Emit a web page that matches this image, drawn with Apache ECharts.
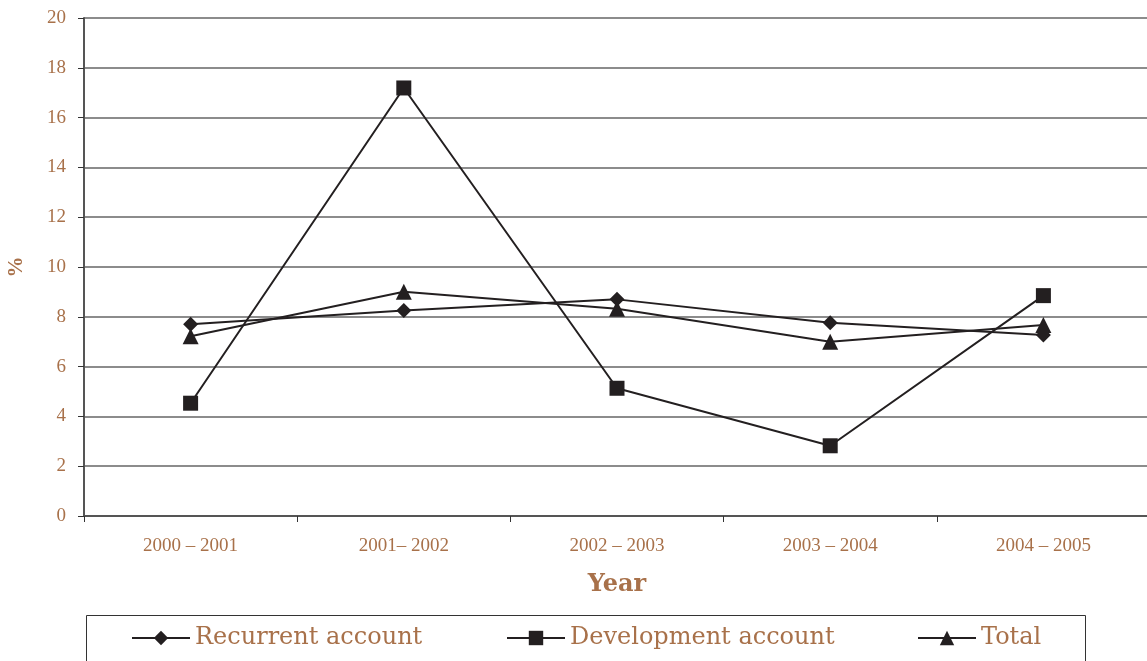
<!DOCTYPE html>
<html>
<head>
<meta charset="utf-8">
<script src="https://cdn.jsdelivr.net/npm/echarts@6/dist/echarts.min.js"></script>
<style>
  html, body { margin: 0; padding: 0; background: #fff; }
  #chart { width: 1147px; height: 661px; }
</style>
</head>
<body>
<div id="chart"></div>
<script>
// Annual growth rates (%) by financial year
const years = ['2000 – 2001', '2001– 2002', '2002 – 2003', '2003 – 2004', '2004 – 2005'];
const recurrent = [7.70, 8.25, 8.70, 7.76, 7.27];
const development = [4.53, 17.19, 5.13, 2.82, 8.85];
const total = [7.22, 9.01, 8.32, 7.00, 7.67];
const yTicks = [0, 2, 4, 6, 8, 10, 12, 14, 16, 18, 20];

const ink = '#231f20';
const brown = '#a8714a';
const serif = '"Liberation Serif", "DejaVu Serif", serif';
const wideSerif = '"DejaVu Serif", "Liberation Serif", serif';

const chart = echarts.init(document.getElementById('chart'), null, { renderer: 'canvas' });

function lineSeries(name, data, symbol, size) {
  return {
    name: name,
    type: 'line',
    data: data,
    symbol: symbol,
    symbolSize: size,
    showAllSymbol: true,
    lineStyle: { color: ink, width: 2 },
    itemStyle: { color: ink },
    emphasis: { disabled: true },
    animation: false
  };
}

function legendAt(name, left) {
  return {
    data: [name],
    left: left,
    top: 626,
    padding: 0,
    itemWidth: 58,
    itemHeight: 18,
    itemGap: 0,
    textStyle: { color: brown, fontFamily: wideSerif, fontSize: 24, padding: [0, 0, 0, 0] },
    selectedMode: false
  };
}

chart.setOption({
  backgroundColor: '#fff',
  animation: false,
  grid: { left: 84, top: 18, width: 1066, height: 498, containLabel: false, outerBoundsMode: 'none' },
  graphic: [{
    type: 'rect',
    shape: { x: 86.5, y: 615.5, width: 999, height: 60 },
    style: { fill: 'none', stroke: '#333', lineWidth: 1 },
    silent: true
  }],
  legend: [
    legendAt('Recurrent account', 131),
    legendAt('Development account', 506),
    legendAt('Total', 917)
  ],
  xAxis: {
    type: 'category',
    data: years,
    boundaryGap: true,
    name: 'Year',
    nameLocation: 'middle',
    nameGap: 57,
    nameTextStyle: { color: brown, fontFamily: wideSerif, fontSize: 24, fontWeight: 'bold' },
    axisLine: { lineStyle: { color: '#555', width: 2 } },
    axisTick: { show: true, length: 6, lineStyle: { color: '#333', width: 1 } },
    axisLabel: { color: brown, fontFamily: serif, fontSize: 19, margin: 21 },
    splitLine: { show: false }
  },
  yAxis: {
    type: 'value',
    min: yTicks[0],
    max: yTicks[yTicks.length - 1],
    interval: 2,
    name: '%',
    nameLocation: 'middle',
    nameGap: 57,
    nameRotate: 90,
    nameTextStyle: { color: brown, fontFamily: serif, fontSize: 21, fontWeight: 'bold' },
    axisLine: { show: true, lineStyle: { color: '#555', width: 2 } },
    axisTick: { show: true, length: 6, lineStyle: { color: '#333', width: 1 } },
    axisLabel: { color: brown, fontFamily: serif, fontSize: 19, margin: 18 },
    splitLine: { show: true, lineStyle: { color: '#666', width: 1.5 } }
  },
  series: [
    lineSeries('Recurrent account', recurrent, 'diamond', 15),
    lineSeries('Development account', development, 'rect', 15),
    lineSeries('Total', total, 'triangle', 16)
  ]
});
</script>
</body>
</html>
